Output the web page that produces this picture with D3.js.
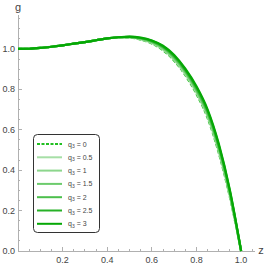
<!DOCTYPE html>
<html lang="en">
<head>
  <meta charset="UTF-8">
  <title>g(z)</title>
  <style>
    body { margin: 0; background: #fff; }
    svg { display: block; }
    .axis path, .axis line { stroke: #b0b0b0; shape-rendering: crispEdges; }
    .lbl { font: 9px "Liberation Sans", Arial, sans-serif; fill: #444; }
    .leg { font: 7px "Liberation Sans", Arial, sans-serif; fill: #444; }
  </style>
</head>
<body>
<div class="chart"></div>
<script src="https://cdn.jsdelivr.net/npm/d3@7"></script>
<script>
  // data
  let zValues = [0, 0.05, 0.1, 0.15, 0.2, 0.25, 0.3, 0.35, 0.4, 0.45, 0.5,
    0.55, 0.6, 0.65, 0.7, 0.75, 0.8, 0.85, 0.9, 0.95, 1.0]
  let gQ0 = [1.000, 1.001, 1.005, 1.011, 1.018, 1.026, 1.034, 1.043, 1.052, 1.058, 1.057,
    1.046, 1.027, 0.994, 0.942, 0.870, 0.777, 0.658, 0.485, 0.265, 0]
  let gQ05 = [1.000, 1.001, 1.005, 1.011, 1.018, 1.026, 1.034, 1.043, 1.052, 1.058, 1.058,
    1.048, 1.030, 0.998, 0.947, 0.875, 0.783, 0.665, 0.493, 0.271, 0]
  let gQ1 = [1.000, 1.001, 1.005, 1.011, 1.018, 1.026, 1.034, 1.043, 1.052, 1.058, 1.058,
    1.049, 1.032, 1.001, 0.951, 0.881, 0.790, 0.672, 0.500, 0.277, 0]
  let gQ15 = [1.000, 1.001, 1.005, 1.011, 1.018, 1.026, 1.034, 1.043, 1.052, 1.058, 1.059,
    1.051, 1.035, 1.005, 0.956, 0.886, 0.796, 0.679, 0.508, 0.283, 0]
  let gQ2 = [1.000, 1.001, 1.005, 1.011, 1.018, 1.026, 1.034, 1.043, 1.052, 1.058, 1.060,
    1.053, 1.037, 1.009, 0.961, 0.891, 0.802, 0.686, 0.515, 0.288, 0]
  let gQ25 = [1.000, 1.001, 1.005, 1.011, 1.018, 1.026, 1.034, 1.043, 1.052, 1.058, 1.060,
    1.054, 1.040, 1.012, 0.965, 0.897, 0.809, 0.693, 0.523, 0.294, 0]
  let gQ3 = [1.000, 1.001, 1.005, 1.011, 1.018, 1.026, 1.034, 1.043, 1.052, 1.058, 1.061,
    1.056, 1.042, 1.016, 0.970, 0.902, 0.815, 0.700, 0.530, 0.300, 0]
  let q3Labels = ['0', '0.5', '1', '1.5', '2', '2.5', '3']
  let xTicks = [0.2, 0.4, 0.6, 0.8, 1.0]
  let yTicks = [0.0, 0.2, 0.4, 0.6, 0.8, 1.0]

  let seriesG = [gQ0, gQ05, gQ1, gQ15, gQ2, gQ25, gQ3]
  let colors = ['#22bf22', '#a6dfa6', '#8cd68c', '#6ccb6c', '#4cbf4c', '#27b127', '#05a805']

  let width = 267
  let height = 267
  let svg = d3.select('.chart').append('svg').attr('width', width).attr('height', height)

  let x = d3.scaleLinear().domain([0, 1.06]).range([18, 254.5])
  let y = d3.scaleLinear().domain([0, 1.17]).range([251, 14.6])

  drawAxes()
  drawLines()
  drawLegend()

  function drawAxes () {
    let minorX = d3.range(0.05, 1.06, 0.05).filter(v => Math.abs(v * 5 - Math.round(v * 5)) > 1e-6)
    let minorY = d3.range(0.05, 1.17, 0.05).filter(v => Math.abs(v * 5 - Math.round(v * 5)) > 1e-6)

    let gx = svg.append('g').attr('class', 'axis')
    gx.append('line').attr('x1', x(0)).attr('x2', x(1.06)).attr('y1', y(0)).attr('y2', y(0))
    gx.selectAll('.maj').data(xTicks).enter().append('line')
      .attr('x1', d => x(d)).attr('x2', d => x(d)).attr('y1', y(0)).attr('y2', y(0) - 4)
    gx.selectAll('.min').data(minorX).enter().append('line')
      .attr('x1', d => x(d)).attr('x2', d => x(d)).attr('y1', y(0)).attr('y2', y(0) - 2)
    gx.selectAll('text').data(xTicks).enter().append('text').attr('class', 'lbl')
      .attr('x', d => x(d)).attr('y', y(0) + 12).attr('text-anchor', 'middle')
      .text(d => d.toFixed(1))

    let gy = svg.append('g').attr('class', 'axis')
    gy.append('line').attr('x1', x(0)).attr('x2', x(0)).attr('y1', y(0)).attr('y2', y(1.17))
    gy.selectAll('.maj').data(yTicks).enter().append('line')
      .attr('x1', x(0)).attr('x2', x(0) + 4).attr('y1', d => y(d)).attr('y2', d => y(d))
    gy.selectAll('.min').data(minorY).enter().append('line')
      .attr('x1', x(0)).attr('x2', x(0) + 2).attr('y1', d => y(d)).attr('y2', d => y(d))
    gy.selectAll('text').data(yTicks).enter().append('text').attr('class', 'lbl')
      .attr('x', x(0) - 3).attr('y', d => y(d) + 3).attr('text-anchor', 'end')
      .text(d => d.toFixed(1))

    svg.append('text').attr('class', 'lbl').style('font-size', '11px')
      .attr('x', x(0)).attr('y', 11).attr('text-anchor', 'middle').text('g')
    svg.append('text').attr('class', 'lbl').style('font-size', '11px')
      .attr('x', 261).attr('y', y(0) + 3).attr('text-anchor', 'middle').text('z')
  }

  function drawLines () {
    let line = d3.line()
      .x((d, i) => x(zValues[i]))
      .y(d => y(d))
      .curve(d3.curveMonotoneX)

    svg.selectAll('.curve').data(seriesG).enter().append('path')
      .attr('class', 'curve')
      .attr('d', d => line(d))
      .attr('fill', 'none')
      .attr('stroke', (d, i) => colors[i])
      .attr('stroke-width', 2.2)
      .attr('stroke-dasharray', (d, i) => i === 0 ? '4,2' : null)
  }

  function drawLegend () {
    let lg = svg.append('g')
    lg.append('rect').attr('x', 33.5).attr('y', 134.5).attr('width', 66).attr('height', 98)
      .attr('rx', 4).attr('fill', '#fff').attr('stroke', '#333').attr('stroke-width', 1)

    let rows = lg.selectAll('.row').data(q3Labels).enter().append('g')
      .attr('transform', (d, i) => 'translate(0,' + (144 + i * 13.3) + ')')
    rows.append('line').attr('x1', 37).attr('x2', 62).attr('y1', 0).attr('y2', 0)
      .attr('stroke', (d, i) => colors[i]).attr('stroke-width', 2)
      .attr('stroke-dasharray', (d, i) => i === 0 ? '3,1.5' : null)
    let t = rows.append('text').attr('class', 'leg').attr('x', 68).attr('y', 2.5)
    t.append('tspan').text('q')
    t.append('tspan').attr('dy', 1.5).style('font-size', '5px').text('3')
    t.append('tspan').attr('dy', -1.5).text(d => ' = ' + d)
  }
</script>
</body>
</html>
